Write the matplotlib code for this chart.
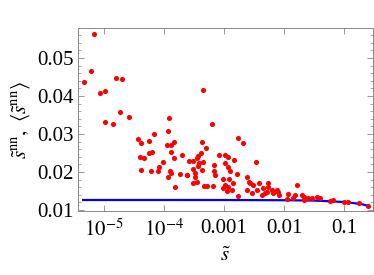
import numpy as np
import matplotlib
matplotlib.use("Agg")
import matplotlib.pyplot as plt
from matplotlib.ticker import LogLocator, MultipleLocator, FixedFormatter, FixedLocator

plt.rcParams['font.family'] = 'Liberation Serif'
plt.rcParams['mathtext.fontset'] = 'stix'

# scattered points: s~ and s~^nn
s_pts = [6.8e-6, 6.0e-6, 4.6e-6, 8.6e-6, 1.03e-5, 1.6e-5, 2.0e-5, 1.04e-5, 1.43e-5, 1.87e-5,
         2.63e-5, 1.2e-4, 1.17e-4, 6.87e-5, 3.72e-5, 4.09e-5, 5.73e-5, 6.31e-5, 5.52e-5, 3.94e-5,
         4.64e-5, 4.1e-5, 5.96e-5, 7.94e-5, 8.26e-5, 9.5e-5, 1.1e-4, 1.33e-4, 1.45e-4, 1.33e-4,
         1.45e-4, 1.24e-4, 1.31e-4, 1.18e-4, 1.53e-4, 4.47e-4, 6.24e-4, 1.73e-3, 2.1e-3, 4.35e-4,
         4.95e-4, 1.97e-4, 4.14e-4, 2.64e-4, 3.04e-4, 3.51e-4, 4.52e-4, 3.83e-4, 3.73e-4, 8.1e-4,
         1.04e-3, 1.14e-3, 1.49e-3, 3.38e-3, 3.01e-4, 3.65e-4, 4.35e-4, 6.81e-4, 6.87e-4, 7.08e-4,
         2.39e-4, 1.85e-4, 3.29e-4, 3.51e-4, 3.08e-4, 4.69e-4, 5.27e-4, 6.48e-4, 1.05e-3, 1.18e-3,
         1.26e-3, 1.23e-3, 9.73e-4, 1.63e-3, 1.04e-3, 1.18e-3, 1.34e-3, 9.51e-4, 1.11e-3, 1.43e-3,
         1.73e-3, 2.42e-3, 2.64e-3, 2.44e-3, 2.9e-3, 3.51e-3, 3.87e-3, 4.52e-3, 5.15e-3, 4.25e-3,
         5.47e-3, 5.35e-3, 6.63e-3, 8.04e-3, 8.35e-3, 1.11e-2, 1.18e-2, 1.62e-2, 1.52e-2, 1.97e-2,
         2.1e-2, 2.54e-2, 2.9e-2, 3.51e-2, 3.98e-2, 5.84e-2, 6.56e-2, 9.73e-2, 0.114, 0.173,
         0.246, 1.43e-2, 2.1e-2, 3.08e-3, 2.71e-3, 4.82e-3, 6.24e-3, 7.55e-3, 2.44e-4, 3.29e-4]
snn_pts = [0.0563, 0.0466, 0.0436, 0.0407, 0.0414, 0.0448, 0.0445, 0.0331, 0.0326, 0.0358,
           0.0346, 0.0341, 0.0307, 0.0301, 0.0286, 0.0276, 0.0283, 0.0253, 0.0249, 0.0239,
           0.0237, 0.0205, 0.0204, 0.0203, 0.0213, 0.0226, 0.0270, 0.0272, 0.0279, 0.0254,
           0.0238, 0.0204, 0.0197, 0.0186, 0.0161, 0.0416, 0.0326, 0.0289, 0.0277, 0.0279,
           0.0264, 0.0245, 0.0250, 0.0230, 0.0228, 0.0236, 0.0226, 0.0224, 0.0241, 0.0244,
           0.0246, 0.0239, 0.0232, 0.0226, 0.0207, 0.0216, 0.0205, 0.0218, 0.0204, 0.0192,
           0.0192, 0.0196, 0.0188, 0.0174, 0.0170, 0.0163, 0.0163, 0.0163, 0.0223, 0.0212,
           0.0203, 0.0183, 0.0181, 0.0195, 0.0166, 0.0161, 0.0153, 0.0157, 0.0150, 0.0170,
           0.0138, 0.0186, 0.0174, 0.0154, 0.0144, 0.0153, 0.0170, 0.0157, 0.0148, 0.0139,
           0.0161, 0.0172, 0.0144, 0.0148, 0.0139, 0.0128, 0.0141, 0.0166, 0.0139, 0.0139,
           0.0135, 0.0133, 0.0131, 0.0135, 0.0133, 0.0124, 0.0126, 0.0120, 0.0122, 0.0118,
           0.0111, 0.0131, 0.0126, 0.0166, 0.0170, 0.0144, 0.0153, 0.0153, 0.0191, 0.0197]

# mean curve <s~^nn>
line_s = [4.5e-6, 1e-4, 1e-3, 0.01, 0.03, 0.06, 0.1, 0.15, 0.2, 0.25]
line_y = [0.01265, 0.01265, 0.01264, 0.01259, 0.0125, 0.0123, 0.0121, 0.0118, 0.0115, 0.0111]

fig = plt.figure(figsize=(3.74, 2.75), dpi=100)
ax = fig.add_axes([0.2086, 0.2327, 0.7884, 0.6655])

ax.plot(line_s, line_y, color='#0000ff', lw=1.6, zorder=2)
ax.plot(s_pts, snn_pts, 'o', color='#ff0000', ms=3.7, mec='none', zorder=3)

ax.set_xscale('log')
ax.set_xlim(3.7e-6, 0.30)
ax.set_ylim(0.00975, 0.0579)

ax.xaxis.set_major_locator(FixedLocator([1e-5, 1e-4, 1e-3, 1e-2, 1e-1]))
ax.xaxis.set_major_formatter(FixedFormatter([r'$10^{-5}$', r'$10^{-4}$', '0.001', '0.01', '0.1']))
ax.xaxis.set_minor_locator(LogLocator(base=10, subs=np.arange(2, 10)))
ax.yaxis.set_major_locator(MultipleLocator(0.01))
ax.yaxis.set_minor_locator(MultipleLocator(0.002))
ax.set_yticks([0.01, 0.02, 0.03, 0.04, 0.05])
ax.set_yticklabels(['0.01', '0.02', '0.03', '0.04', '0.05'])

ax.tick_params(which='both', direction='in', top=True, right=True, color='#888888', labelsize=15)
ax.tick_params(which='major', length=4, width=0.6)
ax.tick_params(which='minor', length=2, width=0.5)
ax.tick_params(axis='x', pad=6)
ax.tick_params(axis='y', pad=3)
for sp in ax.spines.values():
    sp.set_color('#888888')
    sp.set_linewidth(0.7)

ax.set_xlabel(r'$\tilde{s}$', fontsize=15, labelpad=4)
ax.set_ylabel(r'$\tilde{s}^{\rm nn},\ \langle\tilde{s}^{\rm nn}\rangle$', fontsize=15, labelpad=4)

fig.savefig('out.png', dpi=100)
